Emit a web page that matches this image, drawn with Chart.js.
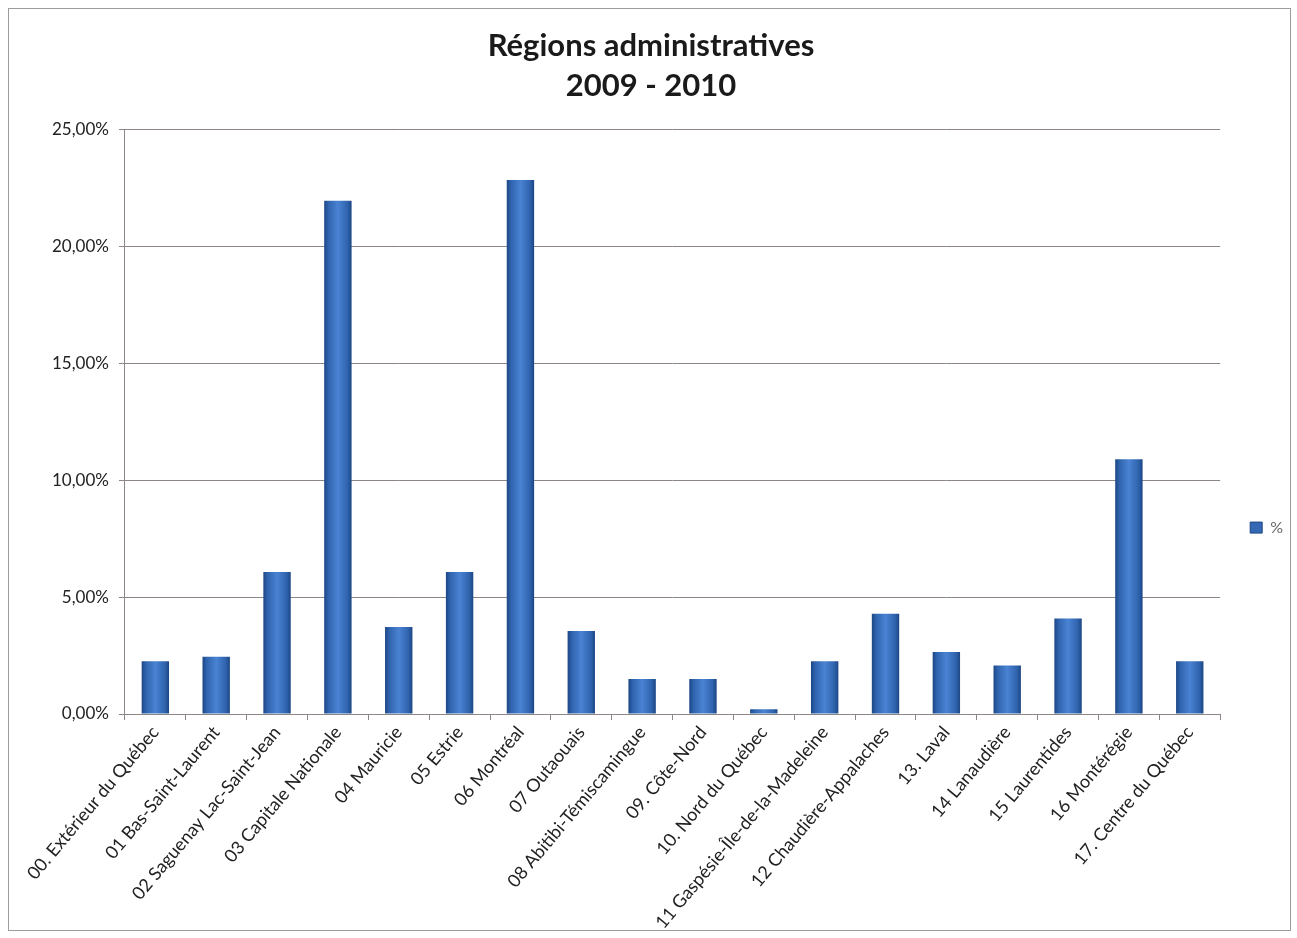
<!DOCTYPE html>
<html>
<head>
<meta charset="utf-8">
<title>Régions administratives 2009 - 2010</title>
<script src="https://cdn.jsdelivr.net/npm/chart.js@4/dist/chart.umd.min.js"></script>
<style>
  html, body { margin: 0; padding: 0; background: #fff; }
  #frame { position: absolute; left: 8px; top: 8px; width: 1281px; height: 921px; border: 1px solid #9c9c9c; background: #fff; }
</style>
</head>
<body>
<div id="frame"><canvas id="chart"></canvas></div>
<script>
// Régions administratives 2009 - 2010 — share (%) per administrative region
var categories = [
  '00. Extérieur du Québec', '01 Bas-Saint-Laurent', '02 Saguenay Lac-Saint-Jean',
  '03 Capitale Nationale', '04 Mauricie', '05 Estrie', '06 Montréal', '07 Outaouais',
  '08 Abitibi-Témiscamingue', '09. Côte-Nord', '10. Nord du Québec',
  '11 Gaspésie-Île-de-la-Madeleine', '12 Chaudière-Appalaches', '13. Laval',
  '14 Lanaudière', '15 Laurentides', '16 Montérégie', '17. Centre du Québec'
];
var percentValues = [2.26, 2.45, 6.08, 21.97, 3.72, 6.08, 22.86, 3.55, 1.50, 1.50, 0.20, 2.26, 4.29, 2.65, 2.08, 4.09, 10.91, 2.26];
var yTicks = [0, 5, 10, 15, 20, 25];

var gridColor = '#8e8585';
var barPct = 0.45;

// horizontal shading of each bar, dark edges and lighter middle
function barFill(c) {
  var chart = c.chart;
  var x = chart.scales.x;
  if (!chart.chartArea || !x || c.dataIndex === undefined) return '#3468b4';
  var cx = x.getPixelForValue(c.dataIndex);
  var half = x.width / categories.length * barPct / 2;
  var g = chart.ctx.createLinearGradient(cx - half, 0, cx + half, 0);
  g.addColorStop(0, '#1c4684');
  g.addColorStop(0.15, '#2f63ad');
  g.addColorStop(0.5, '#4a83d3');
  g.addColorStop(0.85, '#2f63ad');
  g.addColorStop(1, '#1c4684');
  return g;
}

function fmtPct(v) {
  return Number(v).toFixed(2).replace('.', ',') + '%';
}

new Chart(document.getElementById('chart'), {
  type: 'bar',
  data: {
    labels: categories,
    datasets: [{
      label: '%',
      data: percentValues,
      backgroundColor: barFill,
      borderWidth: 0,
      categoryPercentage: 1,
      barPercentage: barPct
    }]
  },
  options: {
    responsive: true, maintainAspectRatio: false, animation: false,
    layout: { padding: { left: 0, right: -3, bottom: -5, top: 0 } },
    plugins: {
      title: {
        display: true,
        text: ['Régions administratives', '2009 - 2010'],
        color: '#1a1a1a',
        font: { family: 'Lato', size: 31, weight: 'bold', lineHeight: 1.29 },
        padding: { top: 17, bottom: 24 }
      },
      legend: {
        display: true, position: 'right',
        // empty legend title only used to push the entry down level with the Excel legend
        title: { display: true, text: ' ', padding: { top: 52, bottom: 40 }, font: { size: 16 } },
        labels: {
          color: '#222', font: { family: 'Lato', size: 16 },
          boxWidth: 12, boxHeight: 11, padding: 30,
          generateLabels: function() {
            return [{ text: '%', fillStyle: '#3468b4', strokeStyle: '#1c4684', lineWidth: 1, datasetIndex: 0 }];
          }
        }
      },
      tooltip: { enabled: false }
    },
    scales: {
      x: {
        grid: { display: true, drawOnChartArea: false, drawTicks: true, tickLength: 6, color: gridColor },
        border: { display: true, color: gridColor, width: 1 },
        ticks: {
          color: '#222', font: { family: 'Lato', size: 18 },
          minRotation: 50, maxRotation: 50, autoSkip: false, padding: 2
        }
      },
      y: {
        min: yTicks[0], max: yTicks[yTicks.length - 1],
        afterBuildTicks: function(s) { s.ticks = yTicks.map(function(v) { return { value: v }; }); },
        // extra left margin kept inside the axis so the title stays centred on the frame
        afterFit: function(s) { s.width += 33; },
        grid: { color: gridColor, lineWidth: 1, tickLength: 6 },
        border: { display: true, color: gridColor, width: 1 },
        ticks: {
          color: '#222', font: { family: 'Lato', size: 17 }, padding: 10,
          callback: function(v) { return fmtPct(v); }
        }
      }
    }
  }
});
</script>
</body>
</html>
